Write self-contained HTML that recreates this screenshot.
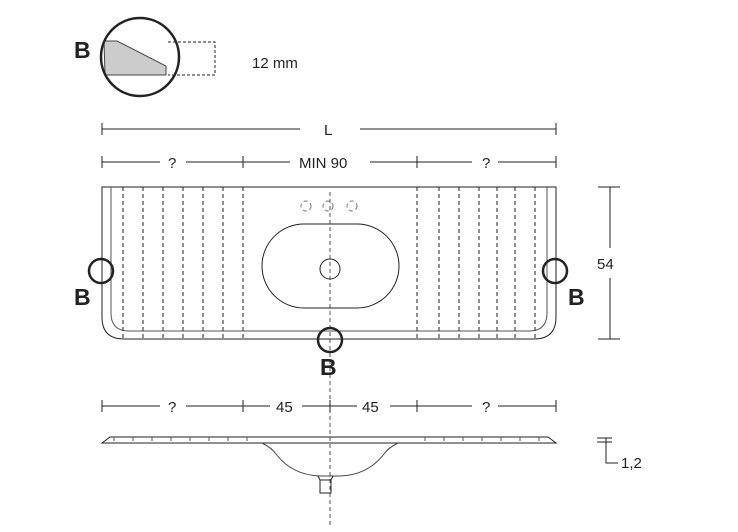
<!DOCTYPE html>
<html><head><style>body{margin:0;background:#fff}svg{display:block}text{font-family:"Liberation Sans",sans-serif;fill:#222}</style></head><body>
<svg width="738" height="532" viewBox="0 0 738 532" xmlns="http://www.w3.org/2000/svg">
<g stroke="#222" fill="none" stroke-width="1">
<!-- detail B -->
<path d="M104,41 L117,41 L166,66 L166,75 L105,75 Z" fill="#ccc" stroke="#444"/>
<circle cx="140" cy="57" r="39" stroke-width="2.5"/>
<path d="M168,42 H215 V75 H168" stroke-dasharray="3,2"/>
<!-- dim L -->
<path d="M102,123 V135 M556,123 V135 M102,129 H300 M360,129 H556"/>
<!-- row 2 -->
<path d="M102,156 V168 M243,156 V168 M417,156 V168 M556,156 V168 M102,162 H160 M186,162 H243 M243,162 H290 M370,162 H417 M417,162 H472 M498,162 H556"/>
<!-- plan outline -->
<path d="M102,187 H556 V317 Q556,339 534,339 H124 Q102,339 102,317 Z"/>
<path d="M111,187 V313 Q111,331 129,331 H529 Q547,331 547,313 V187" stroke="#555"/>
<g stroke-dasharray="4,3">
<path d="M123,187V339 M143,187V339 M163,187V339 M183,187V339 M203,187V339 M223,187V339 M243,187V339 M417,187V339 M439,187V339 M459,187V339 M479,187V339 M497,187V339 M515,187V339 M535,187V339"/>
<path d="M330,192V525" stroke="#555"/>
<circle cx="306" cy="206" r="5" stroke="#777"/><circle cx="328" cy="206" r="5" stroke="#777"/><circle cx="352" cy="206" r="5" stroke="#777"/>
</g>
<path d="M304,224 H357 A42,42 0 0 1 357,308 H304 A42,42 0 0 1 304,224 Z"/>
<circle cx="330" cy="269" r="10"/>
<circle cx="101" cy="271" r="12" stroke-width="2.5"/>
<circle cx="555" cy="271" r="12" stroke-width="2.5"/>
<circle cx="330" cy="340" r="12" stroke-width="2.5"/>
<!-- 54 -->
<path d="M598,187 H620 M598,339 H620 M610,187 V248 M610,278 V339"/>
<!-- row 3 -->
<path d="M102,400 V412 M243,400 V412 M417,400 V412 M556,400 V412 M330,400 V412 M102,406 H160 M186,406 H243 M243,406 H270 M302,406 H357 M390,406 H417 M417,406 H472 M498,406 H556"/>
<!-- side view -->
<path d="M102,443 L110,437 H548 L556,443 Z"/>
<path d="M262,443 Q272,448 276,454 Q292,475 320,476 H340 Q368,475 384,454 Q388,448 398,443" stroke="#444"/>
<path d="M318,476 L320,480 H331 L333,476 M320,480 V493 H331 V480"/>
<path d="M114,437v4 M133,437v4 M152,437v4 M171,437v4 M190,437v4 M209,437v4 M228,437v4 M247,437v4 M425,437v4 M444,437v4 M463,437v4 M482,437v4 M501,437v4 M520,437v4 M539,437v4" stroke="#555"/>
<path d="M597,438 H612 M597,442 H612 M606,438 V463 H618"/>
</g>
<g font-size="23" font-weight="bold">
<text x="74" y="58">B</text><text x="74" y="305">B</text><text x="568" y="305">B</text><text x="320" y="375">B</text>
</g>
<g font-size="15">
<text x="252" y="68">12 mm</text>
<text x="324" y="135">L</text>
<text x="168" y="168">?</text><text x="299" y="168">MIN 90</text><text x="482" y="168">?</text>
<text x="597" y="269">54</text>
<text x="168" y="412">?</text><text x="276" y="412">45</text><text x="362" y="412">45</text><text x="482" y="412">?</text>
<text x="621" y="468">1,2</text>
</g>
</svg>
</body></html>
